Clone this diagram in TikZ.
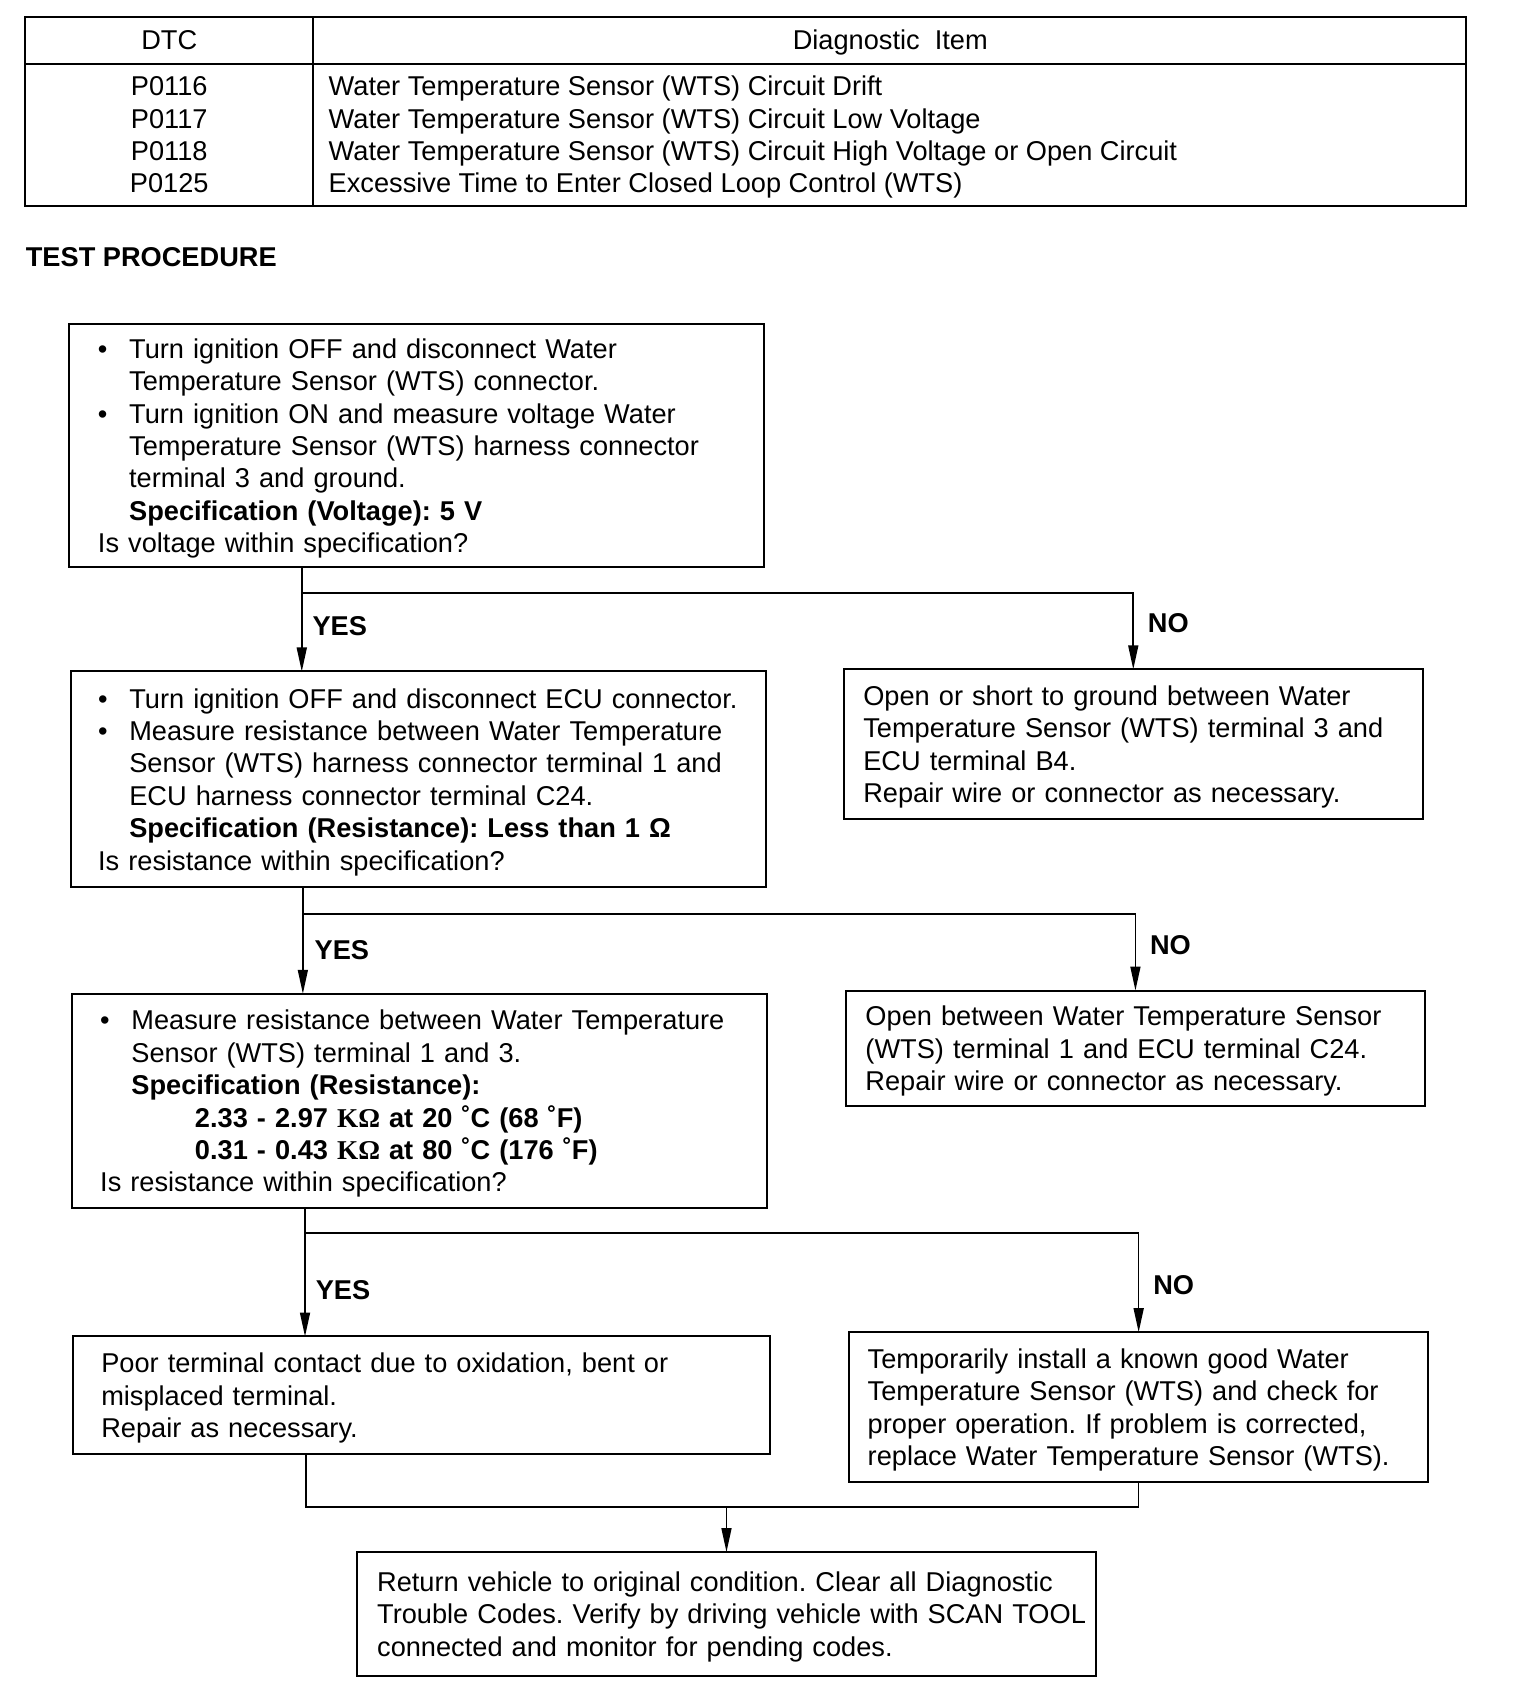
\documentclass[tikz,border=0pt]{standalone}
\usepackage{fontspec}
\setmainfont{Liberation Sans}
\newfontfamily\unitfont{Liberation Serif}
\usepackage{tikz}
\usetikzlibrary{arrows.meta}
\frenchspacing

\newcommand{\bitem}[2][15.6pt]{\hangindent=#1\hangafter=1\makebox[#1][l]{\textbullet}#2\par}
\newcommand{\lstrut}{\rule[-3.2pt]{0pt}{16.2pt}}

\begin{document}
\begin{tikzpicture}[x=0.539pt,y=-0.539pt,font=\fontsize{13.6pt}{16.2pt}\selectfont,
                    step box/.style n args={3}{draw,line width=1pt,anchor=north west,outer sep=0pt,inner xsep=2pt,inner ysep=0pt,
                      minimum width=#1,minimum height=#2,text width=#1-4pt,align=left,execute at begin node={\frenchspacing\leftskip=#3}},
                    plain text/.style={inner sep=0pt,outer sep=0pt},
                    yes no/.style={plain text,anchor=base west,font=\fontsize{13.6pt}{16.2pt}\selectfont\bfseries},
                    table line/.style={line width=1pt},
                    flow line/.style={line width=0.8pt},
                    flow arrow/.style={flow line,-{Triangle[length=12pt,width=5pt]}}]

\useasboundingbox (0,0) rectangle (1410,1568);

% DTC table
\draw [table line] (23,16) rectangle (1360,191);
\draw [table line] (23,59) -- (1360,59);
\draw [table line] (290,16) -- (290,191);
\node [plain text,anchor=base] (dtc) at (157,46) {DTC};
\node [plain text,anchor=base] (diag) at (826,46) {Diagnostic\ \ Item};
\foreach \code/\desc [count=\i] in {P0116/{Water Temperature Sensor (WTS) Circuit Drift},
                                    P0117/{Water Temperature Sensor (WTS) Circuit Low Voltage},
                                    P0118/{Water Temperature Sensor (WTS) Circuit High Voltage or Open Circuit},
                                    P0125/{Excessive Time to Enter Closed Loop Control (WTS)}}
{
\node [plain text,anchor=base] (code\i) at (157,59+30*\i) {\code};
\node [plain text,anchor=base west] (desc\i) at (305,59+30*\i) {\desc};
}

\node [plain text,anchor=base west,font=\fontsize{13.6pt}{16.2pt}\selectfont\bfseries] (title) at (24,247) {TEST PROCEDURE};

% checks on the left
\node [step box={347.7pt}{121.3pt}{12.5pt}] (q1) at (64,301) {%
\bitem{\lstrut Turn ignition OFF and disconnect Water\newline Temperature Sensor (WTS) connector.}
\bitem{Turn ignition ON and measure voltage Water\newline Temperature Sensor (WTS) harness connector\newline terminal 3 and ground.\newline \textbf{Specification (Voltage): 5 V}}
Is voltage within specification?\lstrut};

\node [step box={347.7pt}{107.8pt}{11.5pt}] (q2) at (66,623) {%
\bitem{\lstrut Turn ignition OFF and disconnect ECU connector.}
\bitem{Measure resistance between Water Temperature\newline Sensor (WTS) harness connector terminal 1 and\newline ECU harness connector terminal C24.\newline \textbf{Specification (Resistance): Less than 1 Ω}}
Is resistance within specification?\lstrut};

\node [step box={347.7pt}{107.3pt}{12pt}] (q3) at (67,922) {%
\bitem{\lstrut Measure resistance between Water Temperature\newline Sensor (WTS) terminal 1 and 3.\newline \textbf{Specification (Resistance):}\newline
\hspace*{31.8pt}\textbf{2.33 - 2.97 {\unitfont KΩ} at 20 ˚C (68 ˚F)}\newline
\hspace*{31.8pt}\textbf{0.31 - 0.43 {\unitfont KΩ} at 80 ˚C (176 ˚F)}}
Is resistance within specification?\lstrut};

\node [step box={348.2pt}{58.8pt}{12pt}] (q4) at (68,1240) {%
\lstrut Poor terminal contact due to oxidation, bent or\newline misplaced terminal.\newline Repair as necessary.\lstrut};

% NO answers on the right
\node [step box={289.4pt}{74.9pt}{7.7pt}] (a1) at (783,621) {%
\lstrut Open or short to ground between Water\newline Temperature Sensor (WTS) terminal 3 and\newline ECU terminal B4.\newline Repair wire or connector as necessary.\lstrut};

\node [step box={289.4pt}{57.7pt}{7.7pt}] (a2) at (785,919) {%
\lstrut Open between Water Temperature Sensor\newline (WTS) terminal 1 and ECU terminal C24.\newline Repair wire or connector as necessary.\lstrut};

\node [step box={289.4pt}{74.9pt}{7.2pt}] (a3) at (788,1236) {%
\lstrut Temporarily install a known good Water\newline Temperature Sensor (WTS) and check for\newline proper operation. If problem is corrected,\newline replace Water Temperature Sensor (WTS).\lstrut};

\node [step box={369.8pt}{62pt}{8.2pt}] (fin) at (331,1440) {%
\lstrut Return vehicle to original condition. Clear all Diagnostic\newline Trouble Codes. Verify by driving vehicle with SCAN TOOL\newline connected and monitor for pending codes.\lstrut};

% branches
\coordinate (split1) at (280,550);
\coordinate (split2) at (281,848);
\coordinate (split3) at (283,1144);
\coordinate (join) at (284,1398);

\draw [flow arrow] (q1.south -| split1) -- (q2.north -| split1);
\draw [flow arrow] (split1) -| (a1.north);
\draw [flow arrow] (q2.south -| split2) -- (q3.north -| split2);
\draw [flow arrow] (split2) -| (a2.north);
\draw [flow arrow] (q3.south -| split3) -- (q4.north -| split3);
\draw [flow arrow] (split3) -| (a3.north);
\draw [flow line] (q4.south -| join) -- (join) -| (a3.south);
\draw [flow arrow] (fin.north |- join) -- (fin.north);

\node [yes no] (yes1) at (290,590) {YES};
\node [yes no] (no1) at (1065,587) {NO};
\node [yes no] (yes2) at (292,890) {YES};
\node [yes no] (no2) at (1067,886) {NO};
\node [yes no] (yes3) at (293,1206) {YES};
\node [yes no] (no3) at (1070,1201) {NO};

\end{tikzpicture}
\end{document}
